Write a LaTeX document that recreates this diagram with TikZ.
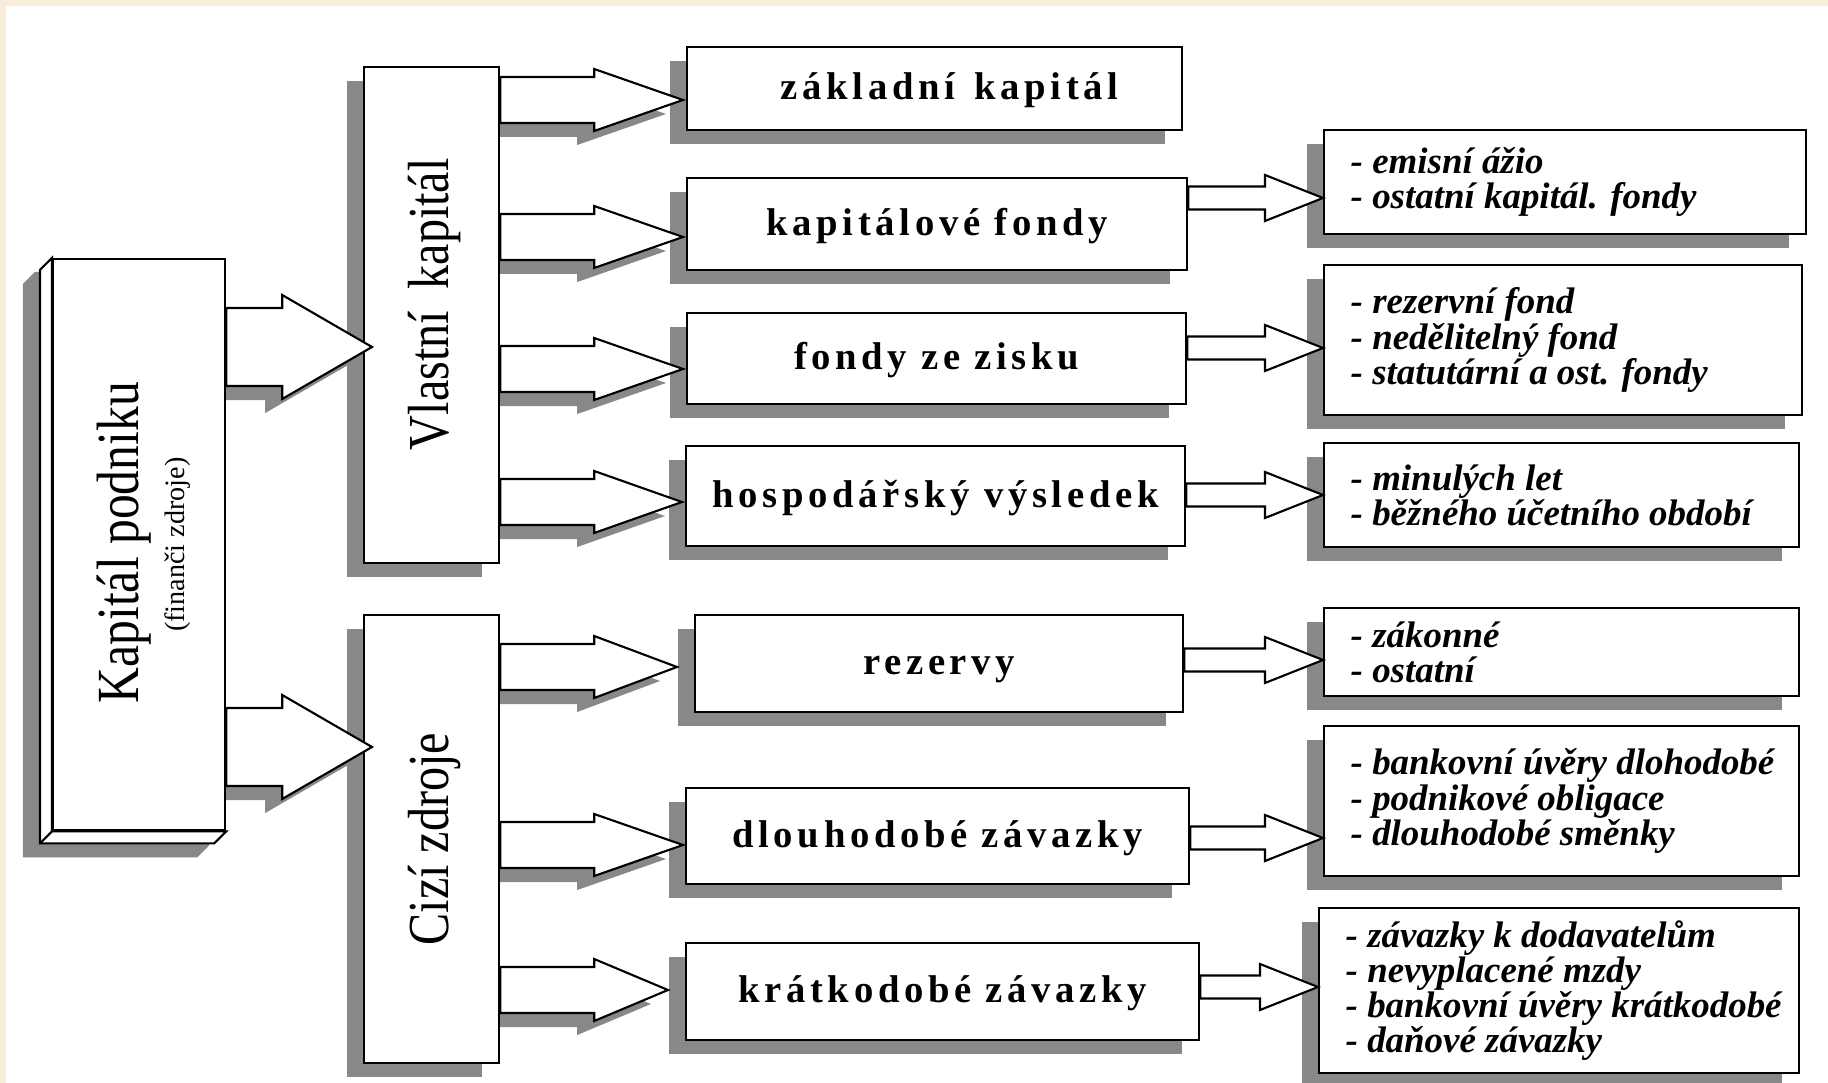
\documentclass[tikz,border=0pt]{standalone}
\usepackage{fontspec}
\usepackage{graphicx}
\setmainfont{Liberation Serif}
\newfontfamily\midfont{Liberation Serif}[LetterSpace=12]
\usetikzlibrary{calc,shadows,backgrounds}

\definecolor{shadowgray}{RGB}{136,136,136}
\definecolor{peach}{RGB}{250,236,218}

\tikzset{
	face/.style={draw, line width=0.6pt, fill=white, inner sep=0pt, anchor=north west},
	box/.style={face, drop shadow={shadow xshift=-0.17cm, shadow yshift=-0.14cm, fill=shadowgray, opacity=1}},
	midbox/.style={box, text height=0.31cm, text depth=0.09cm, font=\midfont\bfseries\fontsize{11}{13}\selectfont},
	items/.style={anchor=west, align=left, inner sep=0pt, font=\bfseries\itshape\fontsize{10.5}{10}\selectfont},
	vlabel/.style={rotate=90, anchor=base, inner sep=0pt, font=\fontsize{16.5}{18}\selectfont},
	blockarrow/.style={draw, line width=0.6pt, fill=white, line join=miter},
	shade/.style={fill=shadowgray, transform canvas={shift={(-0.17cm,-0.14cm)}}}
}

\begin{document}
\begin{tikzpicture}[x=0.01cm, y=-0.01cm]
		\useasboundingbox (0,0) rectangle (1828,1083);
		\begin{pgfonlayer}{background}
			\fill[white] (0,0) rectangle (1828,1083);
			\fill[peach] (0,0) rectangle (1828,6);
			\fill[peach] (0,0) rectangle (6,1083);
		\end{pgfonlayer}
		% left column
		\node[face, minimum width=1.72cm, minimum height=5.71cm] (kp) at (52,258) {};
		\node[box, minimum width=1.35cm, minimum height=4.96cm] (vk) at (363,66) {};
		\node[box, minimum width=1.35cm, minimum height=4.48cm] (cz) at (363,614) {};
		\begin{pgfonlayer}{background}
			\fill[shade] (kp.north west) -- (kp.north east) -- (kp.south east) -- ($(kp.south east)+(-12,12)$) -- ($(kp.south west)+(-12,12)$) -- ($(kp.north west)+(-12,12)$) -- cycle;
		\end{pgfonlayer}
		\draw[line width=0.6pt, fill=white] (kp.north west) -- ++(-12,12) -- ($(kp.south west)+(-12,12)$) -- ($(kp.south east)+(-12,12)$) -- (kp.south east) -- (kp.south west) -- cycle;
		\draw[line width=0.6pt] (kp.south west) -- ++(-12,12);
		\node[vlabel, font=\fontsize{17}{19}\selectfont] (kpt) at ($(kp.center)+(-1,-2)$) {\scalebox{0.83}[1]{Kapitál podniku}};
		\node[vlabel, font=\fontsize{8}{10}\selectfont] (kps) at ($(kp.center)+(45,0)$) {(finanči zdroje)};
		\node[vlabel] (vkt) at ($(vk.center)+(17,-11)$) {\scalebox{0.83}[1]{Vlastní\hspace{0.45em}kapitál}};
		\node[vlabel] (czt) at ($(cz.center)+(17,0)$) {\scalebox{0.83}[1]{Cizí zdroje}};
		% middle column
		\node[midbox, minimum width=4.95cm, minimum height=0.83cm] (zk) at (686,46) {\hspace*{0.3cm}základní\hspace{0.5em}kapitál};
		\node[midbox, minimum width=5.00cm, minimum height=0.92cm] (kf) at (686,177) {kapitálové fondy};
		\node[midbox, minimum width=4.99cm, minimum height=0.91cm] (fz) at (686,312) {fondy ze zisku};
		\node[midbox, minimum width=4.99cm, minimum height=1.00cm] (hv) at (685,445) {hospodářský výsledek};
		\node[midbox, minimum width=4.88cm, minimum height=0.97cm] (rz) at (694,614) {rezervy};
		\node[midbox, minimum width=5.03cm, minimum height=0.96cm] (dz) at (685,787) {dlouhodobé závazky};
		\node[midbox, minimum width=5.13cm, minimum height=0.97cm] (kz) at (685,942) {krátkodobé závazky};
		% right column
		\node[box, minimum width=4.82cm, minimum height=1.04cm] (r1) at (1323,129) {};
		\node[box, minimum width=4.78cm, minimum height=1.50cm] (r2) at (1323,264) {};
		\node[box, minimum width=4.75cm, minimum height=1.04cm] (r3) at (1323,442) {};
		\node[box, minimum width=4.75cm, minimum height=0.88cm] (r4) at (1323,607) {};
		\node[box, minimum width=4.75cm, minimum height=1.50cm] (r5) at (1323,725) {};
		\node[box, minimum width=4.80cm, minimum height=1.65cm] (r6) at (1318,907) {};
		\node[items] (r1t) at ($(r1.west)+(27,0)$) {- emisní ážio\\- ostatní kapitál. fondy};
		\node[items] (r2t) at ($(r2.west)+(27,0)$) {- rezervní fond\\- nedělitelný fond\\- statutární a ost. fondy};
		\node[items] (r3t) at ($(r3.west)+(27,0)$) {- minulých let\\- běžného účetního období};
		\node[items] (r4t) at ($(r4.west)+(27,0)$) {- zákonné\\- ostatní};
		\node[items] (r5t) at ($(r5.west)+(27,0)$) {- bankovní úvěry dlohodobé\\- podnikové obligace\\- dlouhodobé směnky};
		\node[items] (r6t) at ($(r6.west)+(27,0)$) {- závazky k dodavatelům\\- nevyplacené mzdy\\- bankovní úvěry krátkodobé\\- daňové závazky};
		% wide arrows from Kapital podniku
		\foreach \t/\y in {vk/347, cz/747} {
			\coordinate (a0) at (kp.east |- 0,\y);
			\coordinate (p0) at (\t.west |- 0,\y);
			\coordinate (b0) at ($(a0)+(56,0)$);
			\coordinate (p1) at ($(p0)+(9,0)$);
			\begin{pgfonlayer}{background}
				\fill[shade] ($(a0)+(0,-39)$) -- ($(b0)+(0,-39)$) -- ($(b0)+(0,-52)$) -- (p1) -- ($(b0)+(0,52)$) -- ($(b0)+(0,39)$) -- ($(a0)+(0,39)$) -- cycle;
			\end{pgfonlayer}
			\draw[blockarrow] ($(a0)+(0,-39)$) -- ($(b0)+(0,-39)$) -- ($(b0)+(0,-52)$) -- (p1) -- ($(b0)+(0,52)$) -- ($(b0)+(0,39)$) -- ($(a0)+(0,39)$) -- cycle;
		}
		% arrows to the middle column
		\foreach \s/\t/\y/\o in {vk/zk/100/-3, vk/kf/237/-3, vk/fz/369/-3, vk/hv/502/-3, cz/rz/667/-17, cz/dz/845/-2, cz/kz/990/-17} {
			\coordinate (a0) at (\s.east |- 0,\y);
			\coordinate (p0) at (\t.west |- 0,\y);
			\coordinate (b0) at ($(a0)+(94,0)$);
			\coordinate (p1) at ($(p0)+(\o,0)$);
			\begin{pgfonlayer}{background}
				\fill[shade] ($(a0)+(0,-23)$) -- ($(b0)+(0,-23)$) -- ($(b0)+(0,-31)$) -- (p1) -- ($(b0)+(0,31)$) -- ($(b0)+(0,23)$) -- ($(a0)+(0,23)$) -- cycle;
			\end{pgfonlayer}
			\draw[blockarrow] ($(a0)+(0,-23)$) -- ($(b0)+(0,-23)$) -- ($(b0)+(0,-31)$) -- (p1) -- ($(b0)+(0,31)$) -- ($(b0)+(0,23)$) -- ($(a0)+(0,23)$) -- cycle;
		}
		% thin arrows to the right column
		\foreach \s/\t/\y in {kf/r1/198, fz/r2/348, hv/r3/495, rz/r4/660, dz/r5/838, kz/r6/987} {
			\coordinate (a0) at (\s.east |- 0,\y);
			\coordinate (p0) at (\t.west |- 0,\y);
			\coordinate (b0) at ($(p0)+(-58,0)$);
			\draw[blockarrow] ($(a0)+(0,-11.5)$) -- ($(b0)+(0,-11.5)$) -- ($(b0)+(0,-23)$) -- (p0) -- ($(b0)+(0,23)$) -- ($(b0)+(0,11.5)$) -- ($(a0)+(0,11.5)$) -- cycle;
		}
\end{tikzpicture}
\end{document}
